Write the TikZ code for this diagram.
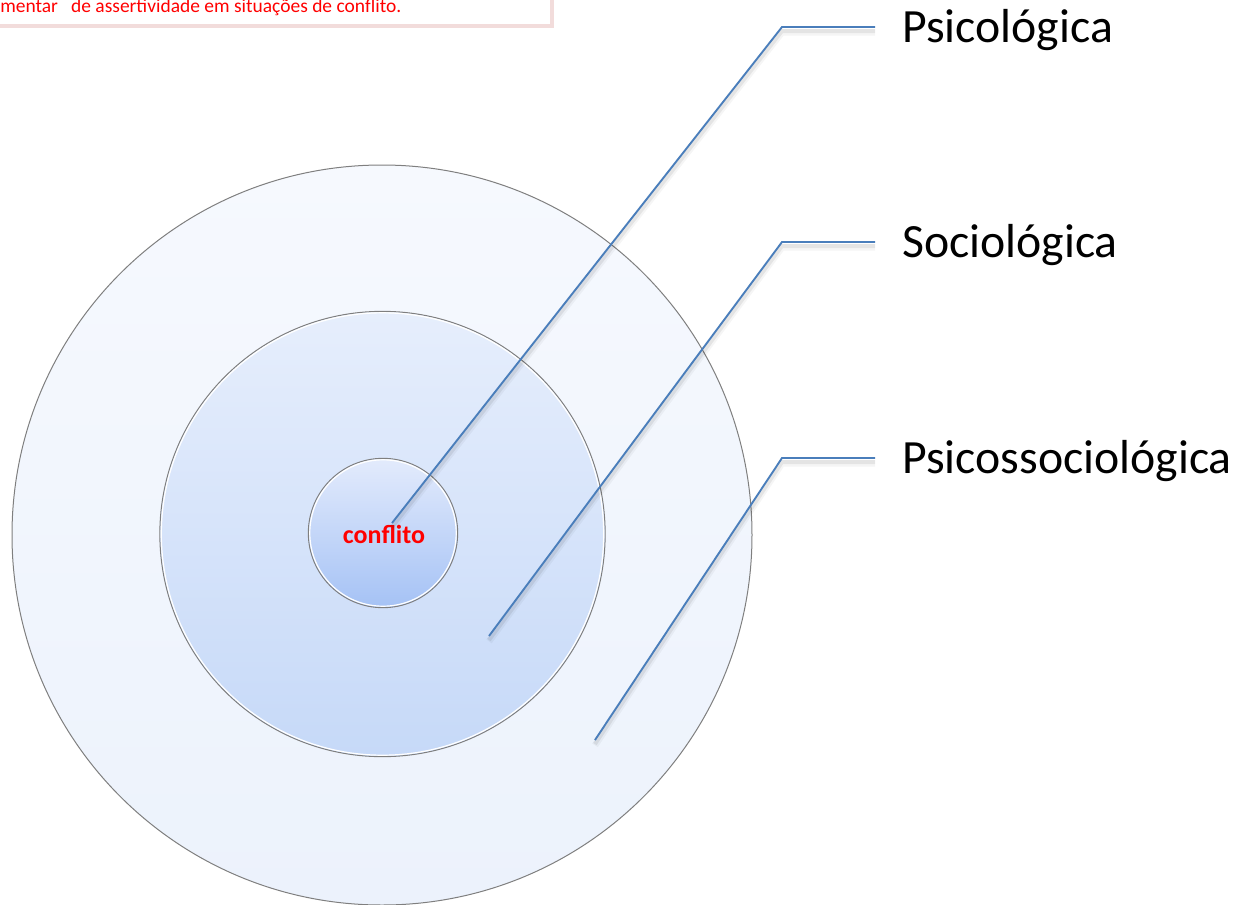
\documentclass[tikz,border=0pt]{standalone}
\usepackage{fontspec}
\setmainfont{Carlito}
\begin{document}
\definecolor{ringline}{HTML}{7F7F7F}
\definecolor{leader}{HTML}{4A7EBB}
\definecolor{notered}{HTML}{FF0000}
\definecolor{noteframe}{HTML}{F2DCDB}
\definecolor{outertop}{HTML}{F6F9FE}
\definecolor{outerbot}{HTML}{ECF2FC}
\definecolor{midtop}{HTML}{E6EEFC}
\definecolor{midbot}{HTML}{C6D9F8}
\definecolor{innertop}{HTML}{E3EBFC}
\definecolor{innerbot}{HTML}{A5C2F5}
\begin{tikzpicture}[x=0.75pt,y=-0.75pt,
  ring/.style={circle,inner sep=0pt,draw=ringline,line width=0.75pt},
  ringglow/.style={draw=white,line width=0.9pt},
  leaderline/.style={draw=leader,line width=1.4pt,line join=miter},
  leadershadow/.style={draw=black,line width=3pt,opacity=0.07},
  label/.style={anchor=base west,font=\fontsize{35.8}{40}\selectfont,inner sep=0pt}]
\useasboundingbox (0,0) rectangle (1236,904);

% note box cut by the top-left corner
\draw[noteframe,line width=2.4pt,fill=white] (-40,-40) rectangle (552,26);
\node[anchor=base west,inner sep=0pt,text=notered,font=\fontsize{14.6}{16}\selectfont] (note) at (0,12.5)
  {mentar\ \ \ de assertividade em situações de conflito.};

% concentric rings
\node[ring,minimum size=555pt,top color=outertop,bottom color=outerbot] (outer) at (382,535) {};
\node[ring,minimum size=334pt,top color=midtop,bottom color=midbot] (middle) at (382.5,534) {};
\node[ring,minimum size=112pt,top color=innertop,bottom color=innerbot] (inner) at (383,533) {};
% thin white glow just inside each rim
\draw[ringglow] (middle.center) circle[radius=165.9pt];
\draw[ringglow] (inner.center) circle[radius=54.9pt];
\node[text=notered,font=\fontsize{19.5}{22}\selectfont\bfseries] (core) at (384,534) {conflito};

% leader ends and knees
\coordinate (a0) at (392,523);
\coordinate (a1) at (782,27);
\coordinate (a2) at (875,27);
\coordinate (b0) at (489,636);
\coordinate (b1) at (782,242);
\coordinate (b2) at (875,242);
\coordinate (c0) at (595,740);
\coordinate (c1) at (782,458);
\coordinate (c2) at (875,458);

% soft shadow under the leaders
\foreach \s/\k/\e in {a0/a1/a2,b0/b1/b2,c0/c1/c2}{
  \draw[leadershadow] ([yshift=-3pt]\s) -- ([yshift=-3pt]\k) -- ([yshift=-3pt]\e);
  \draw[leadershadow,line width=5pt,opacity=0.04] ([yshift=-4pt]\s) -- ([yshift=-4pt]\k) -- ([yshift=-4pt]\e);
}

\draw[leaderline] (a0) -- (a1) -- (a2);
\draw[leaderline] (b0) -- (b1) -- (b2);
\draw[leaderline] (c0) -- (c1) -- (c2);

% labels
\node[label] (psi) at (902,42) {Psicológica};
\node[label] (soc) at (902,257) {Sociológica};
\node[label] (psisoc) at (902,473) {Psicossociológica};
\end{tikzpicture}
\end{document}
